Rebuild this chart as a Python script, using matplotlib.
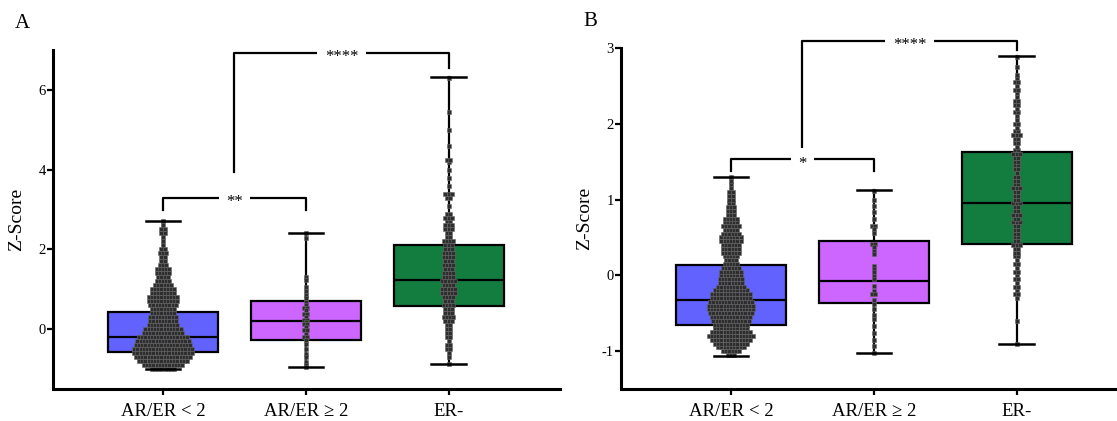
import matplotlib
matplotlib.use("Agg")
import matplotlib.pyplot as plt
import numpy as np

plt.rcParams['font.family'] = ['Liberation Serif', 'DejaVu Serif']
plt.rcParams['axes.unicode_minus'] = False

groups = ['AR/ER < 2', 'AR/ER ≥ 2', 'ER-']
box_colors = ['#6262ff', '#cc66ff', '#137d3f']

# box summaries: whislo, q1, median, q3, whishi
a_stats = [[-1.00, -0.58, -0.20, 0.43, 2.71],
           [-0.95, -0.26, 0.20, 0.70, 2.41],
           [-0.88, 0.58, 1.23, 2.11, 6.33]]
b_stats = [[-1.07, -0.65, -0.33, 0.13, 1.30],
           [-1.03, -0.37, -0.07, 0.45, 1.12],
           [-0.91, 0.41, 0.95, 1.63, 2.89]]

# dot rows: row level -> number of dots in that row
a1_levels = np.round(np.arange(-1.0, 2.71, 0.1), 2)
a1_counts = [8, 13, 16, 18, 19, 19, 18, 17, 16, 13, 12, 10, 9, 9, 8, 8, 9, 10, 10,
             8, 8, 6, 5, 4, 5, 5, 3, 2, 2, 3, 2, 1, 1, 1, 2, 2, 1, 1]
a2_levels = [2.41, 2.28, 1.31, 1.23, 1.06, 0.96, 0.85, 0.77, 0.69, 0.60, 0.54, 0.48,
             0.39, 0.31, 0.23, 0.18, 0.13, 0.06, -0.03, -0.11, -0.19, -0.28, -0.36,
             -0.49, -0.61, -0.69, -0.82, -0.90, -0.95]
a2_counts = [1, 1, 1, 1, 1, 1, 1, 1, 1, 1, 2, 1, 2, 1, 2, 1, 2, 1, 2, 1, 2, 1, 1,
             1, 1, 1, 1, 1, 1]
a3_levels = [-0.88, -0.7, -0.6, -0.5, -0.4, -0.3, -0.2, -0.1,
             0.0, 0.1, 0.2, 0.3, 0.4, 0.5, 0.6, 0.7, 0.8, 0.9, 1.0, 1.1, 1.2, 1.3, 1.4,
             1.5, 1.6, 1.7, 1.8, 1.9, 2.0, 2.1, 2.2, 2.3, 2.4, 2.5, 2.6, 2.7, 2.8, 2.9,
             3.1, 3.3, 3.4, 3.6, 3.8, 4.0, 4.2, 4.25, 4.6, 5.0, 5.45, 6.3]
a3_counts = [1, 1, 1, 2, 2, 1, 2, 2,
             2, 2, 3, 4, 3, 3, 4, 3, 4, 5, 5, 4, 5, 4, 4, 3, 4, 3, 4, 4, 3, 3, 4, 2, 2,
             3, 3, 2, 3, 2,
             1, 2, 3, 1, 1, 1, 1, 2, 1, 1, 1, 1]

b1_levels = np.round(np.arange(-1.05, 1.31, 0.05), 2)
b1_counts = [3, 6, 9, 11, 13, 15, 13, 11, 11, 12, 13, 14, 15, 15, 14, 13, 13, 11,
             9, 8, 8, 7, 7, 6, 5, 4, 5, 6, 6, 6, 7, 7, 6, 5, 6, 5, 5, 3, 3, 3, 2, 2,
             2, 2, 1, 1, 1, 1]
b2_levels = [1.11, 1.00, 0.92, 0.83, 0.74, 0.65, 0.61, 0.56, 0.41, 0.37, 0.32, 0.28,
             0.12, 0.08, 0.04, -0.01, -0.05, -0.14, -0.21, -0.25, -0.32, -0.38, -0.45,
             -0.52, -0.58, -0.67, -0.76, -0.85, -0.93, -1.02]
b2_counts = [1, 1, 1, 1, 1, 2, 1, 1, 2, 1, 1, 1, 1, 1, 1, 1, 1, 1, 1, 2, 1, 1, 1,
             1, 1, 1, 1, 1, 1, 1]
b3_levels = list(np.round(np.arange(-0.30, 2.66, 0.05), 2)) + [-0.91, -0.60, 2.75, 2.88]
b3_counts = [1, 2, 1, 2, 1, 2, 1, 2, 1, 2, 1, 2, 2, 2, 3, 2, 2, 2, 2, 2, 3, 2, 3, 2,
             2, 3, 2, 2, 2, 3, 2, 2, 2, 1, 2, 2, 2, 2, 3, 2, 1, 2, 2, 3, 2, 1, 2, 1,
             1, 2, 1, 2, 2, 1, 1, 2, 1, 2, 1, 1] + [1, 1, 1, 1]

# significance brackets: (x left, x right, bar y, left leg end, right leg end, label)
a_brackets = [(0, 1, 3.29, 2.99, 2.99, '**'),
              (0.5, 2, 6.93, 3.95, 6.55, '****')]
b_brackets = [(0, 1, 1.53, 1.38, 1.38, '*'),
              (0.5, 2, 3.09, 1.67, 2.97, '****')]


def draw_panel(ax, stats, dots, brackets, ylim, yticks):
    bxp_stats = [dict(whislo=s[0], q1=s[1], med=s[2], q3=s[3], whishi=s[4], fliers=[])
                 for s in stats]
    bp = ax.bxp(bxp_stats, positions=[0, 1, 2], widths=0.77, capwidths=0.24,
                patch_artist=True, showfliers=False,
                boxprops=dict(lw=1.6, edgecolor='black'),
                medianprops=dict(lw=1.6, color='black'),
                whiskerprops=dict(lw=1.6, color='black'),
                capprops=dict(lw=1.8, color='black'))
    for patch, c in zip(bp['boxes'], box_colors):
        patch.set_facecolor(c)
        patch.set_zorder(1)
    for art in bp['medians'] + bp['whiskers']:
        art.set_zorder(2)
    for art in bp['caps']:
        art.set_zorder(4)

    dx = 0.0224
    for x0, (levels, counts) in enumerate(dots):
        xs, ys = [], []
        for y, n in zip(levels, counts):
            off = (np.arange(n) - (n - 1) / 2) * dx
            xs.extend(x0 + off)
            ys.extend([y] * n)
        ax.scatter(xs, ys, marker='s', s=5, c='#2e2e2e', edgecolors='#6a6a6a',
                   linewidths=0.4, zorder=3)

    for x1, x2, y, l1, l2, lab in brackets:
        ax.plot([x1, x1, x2, x2], [l1, y, y, l2], color='black', lw=1.6,
                clip_on=False, zorder=5)
        ax.annotate(lab, ((x1 + x2) / 2, y), xytext=(0, -3), textcoords='offset points',
                    ha='center', va='center', fontsize=12, zorder=6,
                    annotation_clip=False,
                    bbox=dict(boxstyle='square,pad=0.45', fc='white', ec='none'))

    ax.set_xlim(-0.77, 2.78)
    ax.set_ylim(*ylim)
    ax.set_yticks(yticks)
    ax.set_xticks([0, 1, 2])
    ax.set_xticklabels(groups, fontsize=13.5)
    ax.tick_params(axis='y', labelsize=10.5, length=4, width=1.6, pad=1)
    ax.tick_params(axis='x', length=4, width=1.6, pad=6)
    for side in ['top', 'right']:
        ax.spines[side].set_visible(False)
    for side in ['left', 'bottom']:
        ax.spines[side].set_linewidth(2.2)
    ax.set_ylabel('Z-Score', fontsize=14)
    ax.yaxis.set_label_coords(-0.055, 0.5)


fig = plt.figure(figsize=(11.17, 4.21), dpi=100)
axA = fig.add_axes([53 / 1117, 1 - 389 / 421, 507 / 1117, (389 - 50) / 421])
axB = fig.add_axes([621 / 1117, 1 - 389 / 421, 507 / 1117, (389 - 48) / 421])

draw_panel(axA, a_stats,
           [(a1_levels, a1_counts), (a2_levels, a2_counts), (a3_levels, a3_counts)],
           a_brackets, (-1.5, 7), [0, 2, 4, 6])
draw_panel(axB, b_stats,
           [(b1_levels, b1_counts), (b2_levels, b2_counts), (b3_levels, b3_counts)],
           b_brackets, (-1.5, 3), [-1, 0, 1, 2, 3])

fig.text(22 / 1117, 1 - 23 / 421, 'A', fontsize=15, ha='center', va='center')
fig.text(590 / 1117, 1 - 22 / 421, 'B', fontsize=15, ha='center', va='center')

fig.savefig('out.png', dpi=100)
